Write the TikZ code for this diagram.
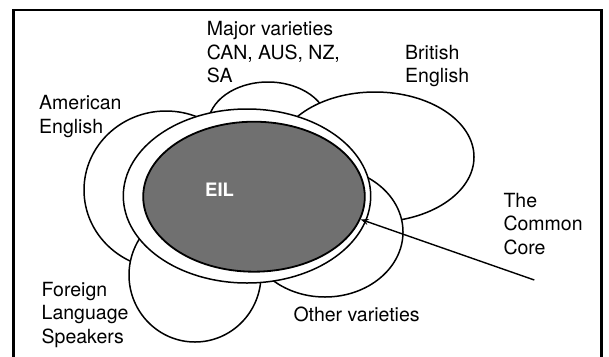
\documentclass[tikz,border=0pt]{standalone}
\usepackage{fontspec}
\setmainfont{TeX Gyre Heros}
\usetikzlibrary{shapes.geometric,arrows.meta}
\begin{document}
\begin{tikzpicture}[x=1pt,y=-1pt,
  petal/.style={ellipse,draw=black,fill=white,line width=1.5pt,inner sep=0pt},
  lbl/.style={anchor=base west,inner sep=0pt,align=left,font=\fontsize{19.5}{23.5}\selectfont},
  frameline/.style={line width=2.4pt},
  pointer/.style={line width=1.4pt,-{Stealth[length=8pt,width=6pt]}}
]
\useasboundingbox (0,0) rectangle (609,356);
\fill[white] (0,0) rectangle (609,356);
\draw[frameline] (13.6,358) -- (13.6,10) -- (601.5,10) -- (601.5,358);

\node[petal,minimum width=164pt,minimum height=158pt] (amer) at (166,190) {};
\node[petal,minimum width=120pt,minimum height=86pt] (major) at (268,125) {};
\node[petal,minimum width=198pt,minimum height=130pt] (brit) at (375,157) {};
\node[petal,minimum width=156pt,minimum height=130pt] (other) at (325,232) {};
\node[petal,minimum width=132pt,minimum height=134pt] (foreign) at (195,275) {};
\node[petal,minimum width=247.4pt,minimum height=174pt] (ring) at (247,196) {};
\node[ellipse,draw=black,fill=black!56,line width=1.8pt,inner sep=0pt,minimum width=221.6pt,minimum height=150pt] (eil) at (254,196.7) {};
\node[font=\bfseries\fontsize{18.5}{18.5}\selectfont,text=white,anchor=base west,inner sep=0pt] (eiltext) at (205,196) {EIL};

% base anchor of a multi-line node is the baseline of its last line
\node[lbl] (majortext) at (206.7,82.7) {Major varieties\\CAN, AUS, NZ,\\SA};
\node[lbl] (brittext) at (405,82.7) {British\\English};
\node[lbl] (amertext) at (39,133.3) {American\\English};
\node[lbl] (cctext) at (503.3,254.3) {The\\Common\\Core};
\node[lbl] (foreigntext) at (41.5,343) {Foreign\\Language\\Speakers};
\node[lbl] (othertext) at (293.3,321.7) {Other varieties};

\coordinate (ccend) at (534.3,280);
\draw[pointer] (ccend) -- (eil.-12.6);
\end{tikzpicture}
\end{document}
